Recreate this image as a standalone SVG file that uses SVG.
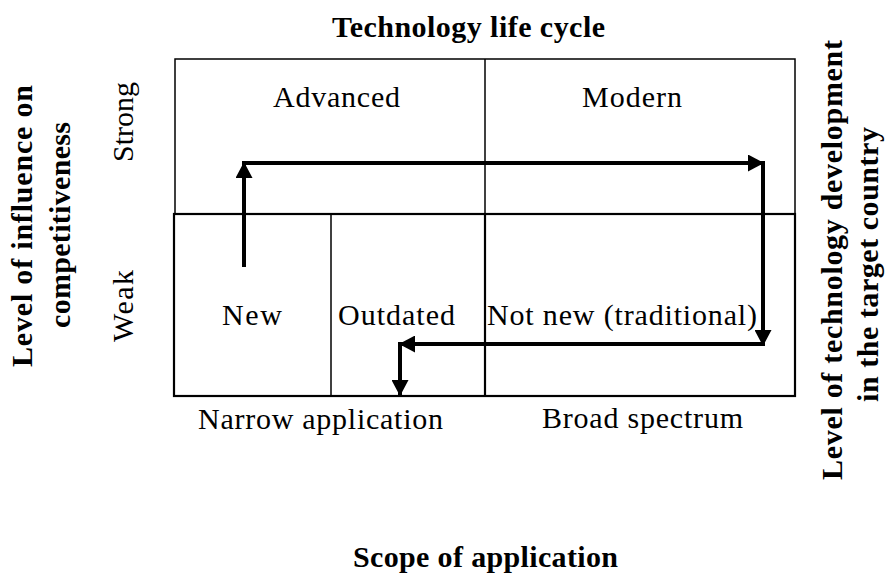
<svg xmlns="http://www.w3.org/2000/svg" width="886" height="575" viewBox="0 0 886 575">
<style>
text{font-family:"Liberation Serif","Times New Roman",serif;font-size:30px;fill:#000}
.b{font-weight:bold}
.thin{fill:none;stroke:#000;stroke-width:1.5}
.thick{fill:none;stroke:#000;stroke-width:2.2}
.arr{fill:none;stroke:#000;stroke-width:4;marker-end:url(#ah)}
</style>
<defs>
<marker id="ah" markerUnits="userSpaceOnUse" markerWidth="16" markerHeight="17" refX="15" refY="8.5" orient="auto" viewBox="0 0 16 17">
<path d="M0,0 L16,8.5 L0,17 z" fill="#000"/>
</marker>
</defs>
<rect width="886" height="575" fill="#fff"/>

<g id="grid">
<rect class="thin" x="175" y="59" width="620" height="155"/>
<line class="thin" x1="485" y1="59" x2="485" y2="214"/>
<rect class="thick" x="174" y="214" width="621" height="182"/>
<line class="thin" x1="331" y1="214" x2="331" y2="396"/>
<line class="thick" x1="485" y1="214" x2="485" y2="396"/>
</g>

<g id="title"><text class="b" x="332" y="37" textLength="273" lengthAdjust="spacing">Technology life cycle</text></g>
<g id="node-advanced"><text x="273" y="107" textLength="127" lengthAdjust="spacing">Advanced</text></g>
<g id="node-modern"><text x="582" y="107" textLength="100" lengthAdjust="spacing">Modern</text></g>
<g id="node-new"><text x="222" y="325" textLength="60" lengthAdjust="spacing">New</text></g>
<g id="node-outdated"><text x="338" y="325" textLength="117" lengthAdjust="spacing">Outdated</text></g>
<g id="node-notnew"><text x="487" y="325" textLength="270" lengthAdjust="spacing">Not new (traditional)</text></g>
<g id="label-narrow"><text x="198" y="429" textLength="245" lengthAdjust="spacing">Narrow application</text></g>
<g id="label-broad"><text x="542" y="428" textLength="201" lengthAdjust="spacing">Broad spectrum</text></g>
<g id="label-scope"><text class="b" x="353" y="567" textLength="265" lengthAdjust="spacing">Scope of application</text></g>

<g id="label-left">
<text class="b" transform="translate(32,226) rotate(-90)" text-anchor="middle" textLength="282" lengthAdjust="spacing">Level of influence on</text>
<text class="b" transform="translate(70,225) rotate(-90)" text-anchor="middle" textLength="206" lengthAdjust="spacing">competitiveness</text>
</g>
<g id="label-strong"><text transform="translate(133,122) rotate(-90)" text-anchor="middle">Strong</text></g>
<g id="label-weak"><text transform="translate(133,306) rotate(-90)" text-anchor="middle" textLength="72" lengthAdjust="spacing">Weak</text></g>
<g id="label-right">
<text class="b" transform="translate(842,260) rotate(-90)" text-anchor="middle" textLength="440" lengthAdjust="spacing">Level of technology development</text>
<text class="b" transform="translate(878,264.5) rotate(-90)" text-anchor="middle" textLength="275" lengthAdjust="spacing">in the target country</text>
</g>

<g id="connectors">
<line class="arr" x1="244" y1="267" x2="244" y2="163"/>
<line class="arr" x1="242" y1="163" x2="763" y2="163"/>
<line class="arr" x1="763" y1="161" x2="763" y2="345"/>
<line class="arr" x1="765" y1="344" x2="400" y2="344"/>
<line class="arr" x1="400" y1="342" x2="400" y2="395"/>
</g>
</svg>
